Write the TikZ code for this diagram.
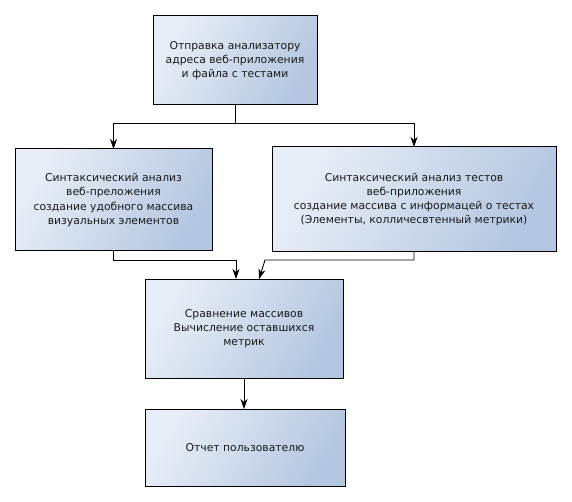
\documentclass[tikz,border=0pt]{standalone}
\usepackage{fontspec}
\setmainfont{DejaVu Sans}
\usetikzlibrary{arrows.meta}
\definecolor{boxlight}{HTML}{E8EEF7}
\definecolor{boxdark}{HTML}{B4C6E0}
\tikzset{
  blk/.style={draw=black, line width=1pt, anchor=north west, inner sep=0pt, outer sep=0pt,
    left color=boxlight, right color=boxdark, shading angle=60},
  txt/.style={align=center, font=\fontsize{10.8}{14.3}\selectfont, text=black!90},
  conn/.style={line width=0.9pt, draw=black},
  arr/.style={conn, -{Stealth[length=10pt,width=7pt,inset=3pt]}}
}
\begin{document}
\begin{tikzpicture}[x=1pt,y=-1pt]
\useasboundingbox (0,0) rectangle (572,502);
\fill[white] (0,0) rectangle (572,502);
\node[blk, minimum width=164pt, minimum height=89pt] (top) at (153,16) {};
\node[txt] (toptxt) at (top.center) {Отправка анализатору\\адреса веб-приложения\\и файла с тестами};
\node[blk, minimum width=197pt, minimum height=102pt] (left) at (15,149) {};
\node[txt] (lefttxt) at (left.center) {Синтаксический анализ\\веб-преложения\\создание удобного массива\\визуальных элементов};
\node[blk, minimum width=284pt, minimum height=105pt] (right) at (272,147) {};
\node[txt] (righttxt) at (right.center) {Синтаксический анализ тестов\\веб-приложения\\создание массива с информацей о тестах\\(Элементы, колличесвтенный метрики)};
\node[blk, minimum width=198pt, minimum height=99pt] (mid) at (145,279) {};
\node[txt] (midtxt) at (mid.center) {Сравнение массивов\\Вычисление оставшихся\\метрик};
\node[blk, minimum width=200pt, minimum height=77pt] (bot) at (145,409) {};
\node[txt] (bottxt) at (bot.center) {Отчет пользователю};

\coordinate (split) at ([yshift=-18pt]top.south);
\coordinate (lj) at (236,260);
\coordinate (rj) at (265,260);
\coordinate (rin) at (259,279);
\draw[conn] (top.south) -- (split);
\draw[arr] (split) -| (left.north);
\draw[arr] (split) -| (right.north);
\draw[arr] (left.south) |- (lj) -- (lj |- mid.north);
\draw[arr] (right.south) |- (rj) -- (rin);
\draw[arr] (mid.south) -- (mid.south |- bot.north);
\end{tikzpicture}
\end{document}
